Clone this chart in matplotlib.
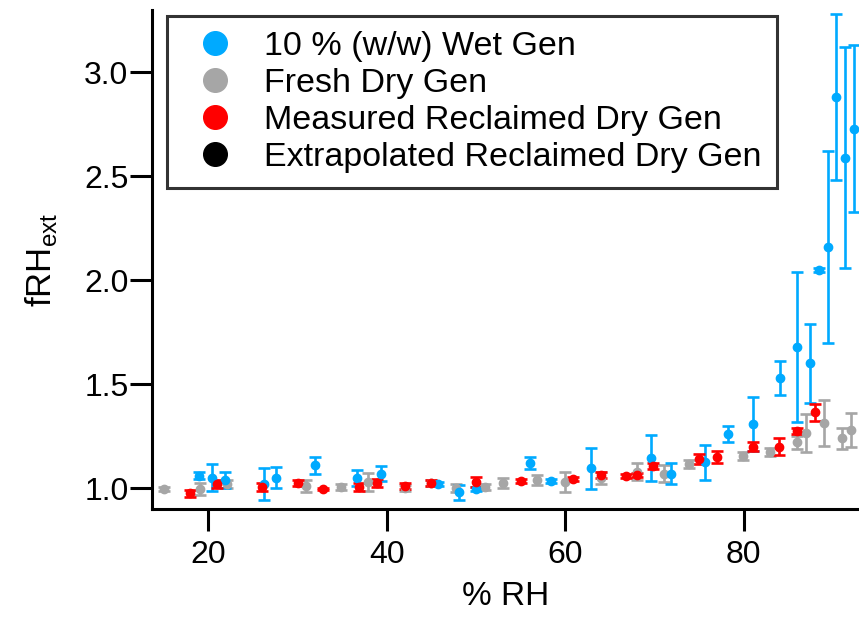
import matplotlib
matplotlib.use("Agg")
import matplotlib.pyplot as plt
from matplotlib.lines import Line2D

plt.rcParams['font.family'] = ['Liberation Sans', 'DejaVu Sans']

# 10 % (w/w) Wet Gen
wet_x = [19.0, 20.4, 21.9, 26.2, 27.6, 32.0, 36.7, 39.3, 45.7, 48.1, 50.0, 56.0, 58.4, 62.9,
         69.6, 71.8, 75.6, 78.2, 81.0, 84.1, 86.0, 87.4, 88.4, 89.4, 90.3, 91.3, 92.3]
wet_y = [1.06, 1.05, 1.04, 1.02, 1.05, 1.11, 1.05, 1.07, 1.02, 0.98, 0.995, 1.12, 1.035, 1.095,
         1.145, 1.07, 1.125, 1.26, 1.31, 1.53, 1.68, 1.60, 2.05, 2.16, 2.88, 2.59, 2.73]
wet_err = [0.017, 0.065, 0.037, 0.075, 0.05, 0.04, 0.037, 0.035, 0.01, 0.035, 0.01, 0.03, 0.008, 0.1,
           0.11, 0.05, 0.085, 0.04, 0.13, 0.08, 0.36, 0.19, 0.01, 0.46, 0.40, 0.53, 0.40]

# Fresh Dry Gen
fresh_x = [15.0, 19.1, 22.1, 31.0, 34.9, 37.9, 42.0, 45.0, 47.7, 51.0, 53.0, 56.8, 60.0, 64.0,
           68.0, 71.0, 73.9, 79.9, 82.9, 86.0, 87.0, 89.0, 91.0, 92.0]
fresh_y = [0.995, 0.995, 1.02, 1.01, 1.005, 1.03, 1.0, 1.025, 1.0, 1.005, 1.025, 1.04, 1.03, 1.05,
           1.08, 1.07, 1.115, 1.155, 1.175, 1.22, 1.265, 1.315, 1.24, 1.28]
fresh_err = [0.01, 0.03, 0.02, 0.03, 0.015, 0.045, 0.015, 0.015, 0.02, 0.015, 0.025, 0.025, 0.05, 0.03,
             0.04, 0.04, 0.02, 0.02, 0.02, 0.03, 0.09, 0.11, 0.05, 0.08]

# Measured Reclaimed Dry Gen
meas_x = [18.0, 21.0, 26.0, 30.0, 32.9, 36.9, 38.9, 42.0, 45.0, 50.0, 55.0, 60.9, 64.0, 66.8,
          68.0, 69.8, 75.0, 77.0, 81.0, 83.9, 86.0, 88.0]
meas_y = [0.975, 1.02, 1.005, 1.025, 0.995, 1.005, 1.025, 1.01, 1.025, 1.03, 1.035, 1.045, 1.065, 1.06,
          1.065, 1.105, 1.14, 1.15, 1.20, 1.20, 1.275, 1.365]
meas_err = [0.015, 0.02, 0.02, 0.015, 0.005, 0.02, 0.02, 0.015, 0.015, 0.025, 0.01, 0.01, 0.015, 0.01,
            0.01, 0.015, 0.025, 0.03, 0.02, 0.04, 0.015, 0.04]

# Extrapolated Reclaimed Dry Gen (outside the visible range)
extra_x = []
extra_y = []

labels = ['10 % (w/w) Wet Gen', 'Fresh Dry Gen', 'Measured Reclaimed Dry Gen',
          'Extrapolated Reclaimed Dry Gen']
colors = ['#00aaff', '#a6a6a6', '#ff0000', '#000000']

fig = plt.figure(figsize=(8.59, 6.17), dpi=100)
ax = fig.add_axes([152 / 859, 108 / 617, 707 / 859, 499 / 617])

kw = dict(fmt='o', markersize=6, elinewidth=1.9, capsize=4, capthick=1.9)
ax.errorbar(fresh_x, fresh_y, yerr=fresh_err, color=colors[1], **kw)
ax.errorbar(wet_x, wet_y, yerr=wet_err, color=colors[0], **kw)
ax.errorbar(meas_x, meas_y, yerr=meas_err, color=colors[2], **kw)
ax.plot(extra_x, extra_y, 'o', color=colors[3], markersize=6)

ax.set_xlim(13.7, 92.9)
ax.set_ylim(0.9, 3.3)
ax.set_xticks([20, 40, 60, 80])
ax.set_yticks([1.0, 1.5, 2.0, 2.5, 3.0])
ax.set_yticklabels(['1.0', '1.5', '2.0', '2.5', '3.0'])

for s in ['top', 'right']:
    ax.spines[s].set_visible(False)
for s in ['left', 'bottom']:
    ax.spines[s].set_linewidth(2.2)
ax.tick_params(direction='out', length=16, width=2.2, labelsize=23)
ax.tick_params(axis='x', pad=6)
ax.tick_params(axis='y', pad=1)

ax.set_xlabel('% RH', fontsize=24, labelpad=8)
ax.set_ylabel('fRH$_{\\mathregular{ext}}$', fontsize=25, labelpad=18)

handles = [Line2D([], [], marker='o', linestyle='none', color=c, markersize=17) for c in colors]
leg = ax.legend(handles, labels, loc='upper left', bbox_to_anchor=(167 / 859, 1 - 16 / 617),
                bbox_transform=fig.transFigure, borderaxespad=0, fontsize=24.5, frameon=True,
                fancybox=False, borderpad=0.45, labelspacing=0.17, handlelength=1.9,
                handletextpad=0.5)
leg.get_frame().set_edgecolor('black')
leg.get_frame().set_linewidth(2.2)

fig.savefig('out.png', dpi=100)
